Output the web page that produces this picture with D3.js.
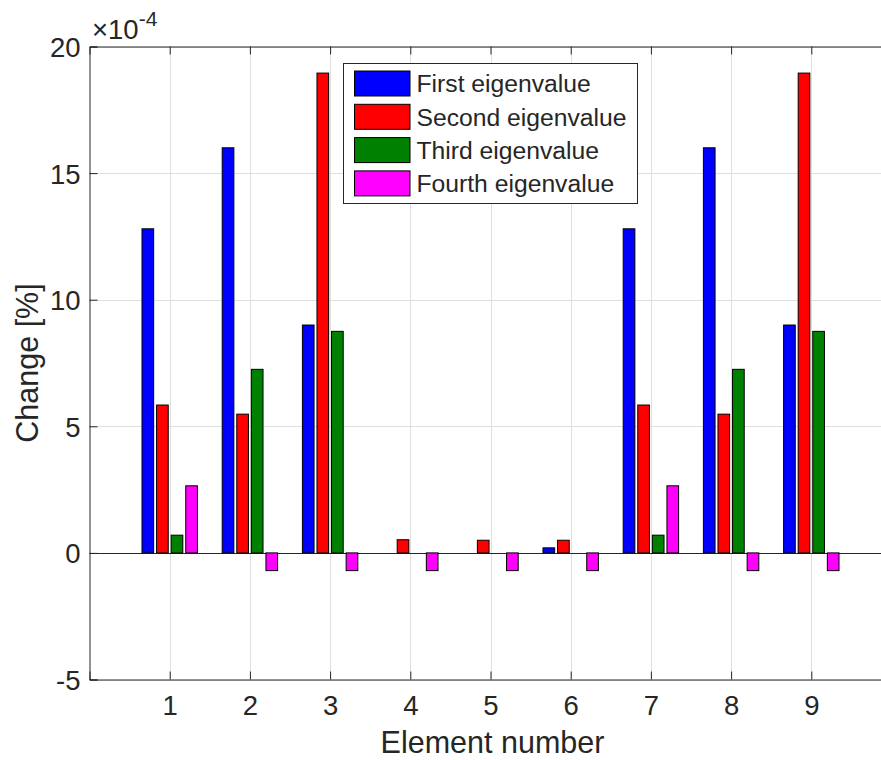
<!DOCTYPE html>
<html>
<head>
<meta charset="utf-8">
<script src="https://cdn.jsdelivr.net/npm/d3@7"></script>
<style>
  body { margin: 0; background: #fff; }
  text { font-family: "Liberation Sans", Arial, sans-serif; fill: #262626; }
</style>
</head>
<body>
<div id="chart"></div>
<script>
let width = 881,
    height = 760;

// values in units of 1e-4 %
let elements = [1, 2, 3, 4, 5, 6, 7, 8, 9];
let first  = [12.8, 16.0, 9.0, 0, 0, 0.2, 12.8, 16.0, 9.0];
let second = [5.84, 5.48, 18.95, 0.52, 0.50, 0.50, 5.84, 5.48, 18.95];
let third  = [0.70, 7.25, 8.75, 0, 0, 0, 0.70, 7.25, 8.75];
let fourth = [2.65, -0.7, -0.7, -0.7, -0.7, -0.7, 2.65, -0.7, -0.7];
let seriesNames = ["First eigenvalue", "Second eigenvalue", "Third eigenvalue", "Fourth eigenvalue"];
let seriesColors = ["#0000ff", "#ff0000", "#008000", "#ff00ff"];
let yTicks = [-5, 0, 5, 10, 15, 20];

let series = [first, second, third, fourth];

let svg = d3.select("#chart")
  .append("svg")
  .attr("width", width)
  .attr("height", height);

let x = d3.scaleLinear().domain([0, 10]).range([89.5, 891.5]);
let y = d3.scaleLinear().domain([-5, 20]).range([679.5, 46.5]);

let grid = svg.append("g");
let bars = svg.append("g");
let axes = svg.append("g");
let legend = svg.append("g");

// grid
grid.selectAll(".vg")
  .data(elements)
  .enter().append("line")
  .attr("x1", d => Math.round(x(d)) + 0.5)
  .attr("x2", d => Math.round(x(d)) + 0.5)
  .attr("y1", y(20))
  .attr("y2", y(-5))
  .attr("stroke", "#dfdfdf")
  .attr("stroke-width", 1);

grid.selectAll(".hg")
  .data(yTicks)
  .enter().append("line")
  .attr("x1", x(0))
  .attr("x2", x(10))
  .attr("y1", d => Math.round(y(d)) + 0.5)
  .attr("y2", d => Math.round(y(d)) + 0.5)
  .attr("stroke", "#dfdfdf")
  .attr("stroke-width", 1);

// baseline
grid.append("line")
  .attr("x1", x(0))
  .attr("x2", x(10))
  .attr("y1", Math.round(y(0)) + 0.5)
  .attr("y2", Math.round(y(0)) + 0.5)
  .attr("stroke", "#262626")
  .attr("stroke-width", 1);

// grouped bars like matlab bar()
let nS = series.length;
let groupWidth = Math.min(0.8, nS / (nS + 1.5));
let pitch = groupWidth / nS;
let barW = pitch * 0.8;

series.forEach((vals, i) => {
  let off = (i - (nS - 1) / 2) * pitch;
  bars.selectAll(".s" + i)
    .data(vals.map((v, j) => ({ x: elements[j], v: v })))
    .enter().append("rect")
    .attr("x", d => x(d.x + off - barW / 2))
    .attr("width", x(barW) - x(0))
    .attr("y", d => y(Math.max(0, d.v)))
    .attr("height", d => Math.abs(y(d.v) - y(0)))
    .attr("fill", seriesColors[i])
    .attr("stroke", "#000")
    .attr("stroke-width", 1);
});

// axes
let xAxis = d3.axisBottom(x).tickValues(elements).tickSize(-8).tickPadding(16).tickFormat(d => String(d));
let xAxisTop = d3.axisTop(x).tickValues(elements).tickSize(-8).tickFormat("");
let yAxis = d3.axisLeft(y).tickValues(yTicks).tickSize(-8).tickPadding(9).tickFormat(d => String(d));

let gx = axes.append("g").attr("transform", "translate(0," + y(-5) + ")").call(xAxis);
let gxt = axes.append("g").attr("transform", "translate(0," + y(20) + ")").call(xAxisTop);
let gy = axes.append("g").attr("transform", "translate(" + x(0) + ",0)").call(yAxis);

[gx, gxt, gy].forEach(g => {
  g.select(".domain").attr("stroke", "#262626").attr("stroke-width", 1);
  g.selectAll(".tick line").attr("stroke", "#262626").attr("stroke-width", 1);
  g.selectAll(".tick text")
    .style("font-family", "'Liberation Sans', Arial, sans-serif")
    .style("font-size", "27.5px")
    .attr("fill", "#262626");
});
gy.selectAll(".tick text").attr("dy", "0.36em");

// exponent label
let expo = axes.append("text")
  .attr("x", 92)
  .attr("y", 39)
  .style("font-size", "27.5px");
expo.append("tspan").text("\u00d710");
expo.append("tspan").attr("dy", -13).style("font-size", "21px").text("-4");

// axis labels
axes.append("text")
  .attr("x", (x(0) + x(10)) / 2 + 2)
  .attr("y", 753)
  .attr("text-anchor", "middle")
  .style("font-size", "30.5px")
  .text("Element number");

axes.append("text")
  .attr("transform", "translate(37.5," + (y(-5) + y(20)) / 2 + ") rotate(-90)")
  .attr("text-anchor", "middle")
  .style("font-size", "30.5px")
  .text("Change [%]");

// legend
legend.append("rect")
  .attr("x", 343.5)
  .attr("y", 63.5)
  .attr("width", 294)
  .attr("height", 140)
  .attr("fill", "#fff")
  .attr("stroke", "#262626")
  .attr("stroke-width", 1);

let rowH = 33.3;
legend.selectAll(".sw")
  .data(seriesNames)
  .enter().append("rect")
  .attr("x", 354.5)
  .attr("y", (d, i) => 71 + i * rowH)
  .attr("width", 55.5)
  .attr("height", 25)
  .attr("fill", (d, i) => seriesColors[i])
  .attr("stroke", "#000")
  .attr("stroke-width", 1);

legend.selectAll(".lt")
  .data(seriesNames)
  .enter().append("text")
  .attr("x", 416.5)
  .attr("y", (d, i) => 92.3 + i * rowH)
  .style("font-size", "24.7px")
  .attr("fill", "#000")
  .text(d => d);
</script>
</body>
</html>
